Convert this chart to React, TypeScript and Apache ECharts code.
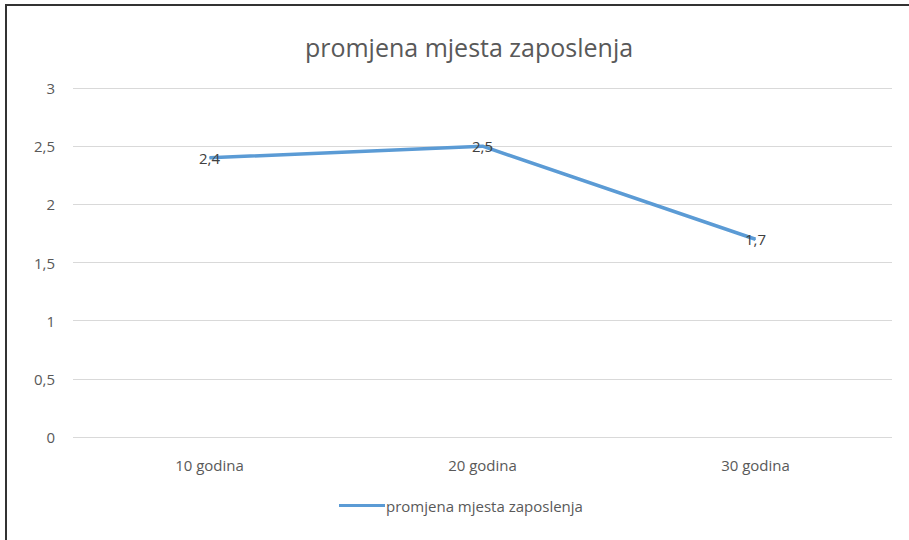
import React, { useEffect, useRef } from "react";
import * as echarts from "echarts";

const categories = ["10 godina", "20 godina", "30 godina"];
const seriesName = "promjena mjesta zaposlenja";
const values = [2.4, 2.5, 1.7];
const yTicks = [0, 0.5, 1, 1.5, 2, 2.5, 3];

const FONT = "'Open Sans', 'Noto Sans', sans-serif";
const LINE_COLOR = "#5B9BD5";
const TEXT_COLOR = "#595959";
const comma = (v: number) => String(v).replace(".", ",");

export default function App() {
  const ref = useRef<HTMLDivElement>(null);

  useEffect(() => {
    document.body.style.margin = "0";
    if (!ref.current) return;
    const chart = echarts.init(ref.current, null, { renderer: "svg" });
    chart.setOption({
      animation: false,
      backgroundColor: "#ffffff",
      title: {
        text: seriesName,
        left: 464,
        textAlign: "center",
        top: 29,
        textStyle: {
          fontFamily: FONT,
          fontSize: 25,
          fontWeight: "normal",
          color: TEXT_COLOR,
        },
      },
      legend: {
        data: [seriesName],
        left: 334,
        top: 493,
        itemWidth: 46,
        itemHeight: 3,
        icon: "rect",
        itemGap: 4,
        itemStyle: { color: LINE_COLOR },
        textStyle: { fontFamily: FONT, fontSize: 15, color: TEXT_COLOR, padding: [0, 0, 0, -4] },
      },
      grid: { left: 73, right: 17, top: 88, bottom: 103 },
      xAxis: {
        type: "category",
        data: categories,
        axisLine: { show: false },
        axisTick: { show: false },
        axisLabel: { fontFamily: FONT, fontSize: 15, color: TEXT_COLOR, margin: 20 },
      },
      yAxis: {
        type: "value",
        min: yTicks[0],
        max: yTicks[yTicks.length - 1],
        interval: 0.5,
        axisLine: { show: false },
        axisTick: { show: false },
        axisLabel: {
          fontFamily: FONT,
          fontSize: 15,
          color: TEXT_COLOR,
          margin: 18,
          formatter: (v: number) => comma(v),
        },
        splitLine: { lineStyle: { color: "#d9d9d9", width: 1 } },
      },
      series: [
        {
          name: seriesName,
          type: "line",
          data: values,
          symbol: "circle",
          symbolSize: 1,
          itemStyle: { color: LINE_COLOR },
          lineStyle: { color: LINE_COLOR, width: 3.5 },
          label: {
            show: true,
            position: "inside",
            fontFamily: FONT,
            fontSize: 15,
            color: "#404040",
            formatter: (p: any) => comma(p.value),
          },
        },
      ],
      graphic: [
        { type: "line", shape: { x1: 6, y1: 5, x2: 6, y2: 540 }, style: { stroke: "#333333", lineWidth: 2 } },
        { type: "line", shape: { x1: 5, y1: 5, x2: 909, y2: 5 }, style: { stroke: "#333333", lineWidth: 2 } },
      ],
    });
    return () => chart.dispose();
  }, []);

  return <div ref={ref} style={{ width: 909, height: 540 }} />;
}
